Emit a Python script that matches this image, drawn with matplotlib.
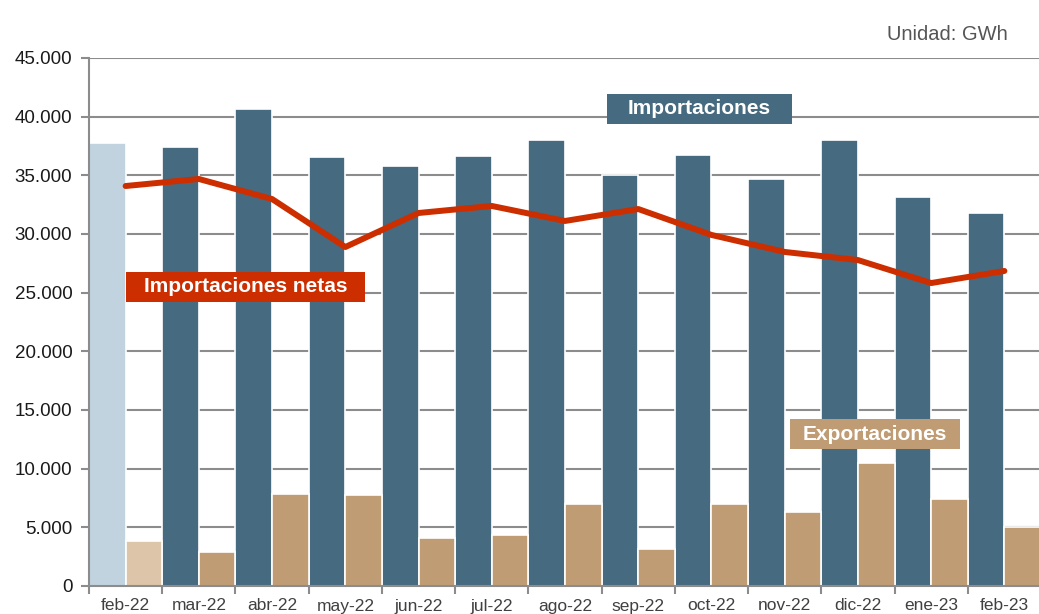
import matplotlib
matplotlib.use('Agg')
import matplotlib.pyplot as plt
from matplotlib.patches import Rectangle
from matplotlib.ticker import FuncFormatter, MultipleLocator
import numpy as np

plt.rcParams['font.family'] = ['Liberation Sans', 'DejaVu Sans']

# data (GWh)
meses = ['feb-22', 'mar-22', 'abr-22', 'may-22', 'jun-22', 'jul-22', 'ago-22',
         'sep-22', 'oct-22', 'nov-22', 'dic-22', 'ene-23', 'feb-23']
importaciones = [37760, 37420, 40650, 36560, 35800, 36650, 38010,
                 35030, 36730, 34690, 38010, 33150, 31790]
exportaciones = [3840, 2900, 7840, 7760, 4090, 4350, 6990,
                 3150, 6990, 6310, 10480, 7420, 5030]
netas = [34090, 34690, 32980, 28890, 31790, 32390, 31110,
         32130, 29920, 28470, 27780, 25820, 26850]

c_imp = '#466a80'
c_imp_prev = '#c0d3df'
c_exp = '#c09c74'
c_exp_prev = '#dcc5a8'
c_net = '#cc2e00'
c_grid = '#8c8c8c'

fig = plt.figure(figsize=(10.39, 6.14), dpi=100)
ax = fig.add_axes([89/1039, 28/614, 952/1039, 528/614])

x = np.arange(len(meses))
imp_colors = [c_imp_prev] + [c_imp]*(len(meses)-1)
exp_colors = [c_exp_prev] + [c_exp]*(len(meses)-1)

ax.bar(x - 0.25, importaciones, width=0.5, color=imp_colors, edgecolor='white', linewidth=1.2, zorder=3)
ax.bar(x + 0.25, exportaciones, width=0.5, color=exp_colors, edgecolor='white', linewidth=1.2, zorder=3)
ax.plot(x, netas, color=c_net, linewidth=4.3, solid_capstyle='round', solid_joinstyle='round', zorder=4)

ax.set_xlim(-0.5, len(meses) - 0.5)
ax.set_ylim(0, 45000)
ax.yaxis.set_major_locator(MultipleLocator(5000))
ax.yaxis.set_major_formatter(FuncFormatter(lambda v, p: f'{int(v):,}'.replace(',', '.')))

ax.set_xticks(x)
ax.set_xticklabels(meses, fontsize=12.5, color='#404040')
ax.set_xticks(np.arange(-0.5, len(meses)), minor=True)
ax.tick_params(axis='x', which='major', length=0, pad=9)
ax.tick_params(axis='x', which='minor', length=6, width=1.5, color=c_grid)
ax.tick_params(axis='y', length=6, width=1.5, color=c_grid, labelsize=13.5, labelcolor='#1a1a1a', pad=6)

ax.grid(axis='y', color=c_grid, linewidth=1.5, zorder=0)
for s in ['top', 'right']:
    ax.spines[s].set_visible(False)
for s in ['left', 'bottom']:
    ax.spines[s].set_color(c_grid)
    ax.spines[s].set_linewidth(1.5)
    ax.spines[s].set_zorder(5)

# label boxes (position in px converted to data units)
def px_box(x0, y0, x1, y1, color, text):
    xa = (x0 - 89) / 73.23 - 0.5
    xb = (x1 - 89) / 73.23 - 0.5
    ya = (586 - y1) / 528 * 45000
    yb = (586 - y0) / 528 * 45000
    ax.add_patch(Rectangle((xa, ya), xb - xa, yb - ya, facecolor=color, edgecolor='none', zorder=6))
    ax.text((xa + xb) / 2, (ya + yb) / 2, text, color='white', fontsize=15, fontweight='bold',
            ha='center', va='center', zorder=7)

px_box(607, 94, 792, 124, c_imp, 'Importaciones')
px_box(126, 272, 365, 302, c_net, 'Importaciones netas')
px_box(790, 419, 960, 449, c_exp, 'Exportaciones')

fig.text(1008/1039, 1 - 34/614, 'Unidad: GWh', ha='right', va='center', fontsize=14.5, color='#555555')

fig.savefig('out.png', dpi=100)
